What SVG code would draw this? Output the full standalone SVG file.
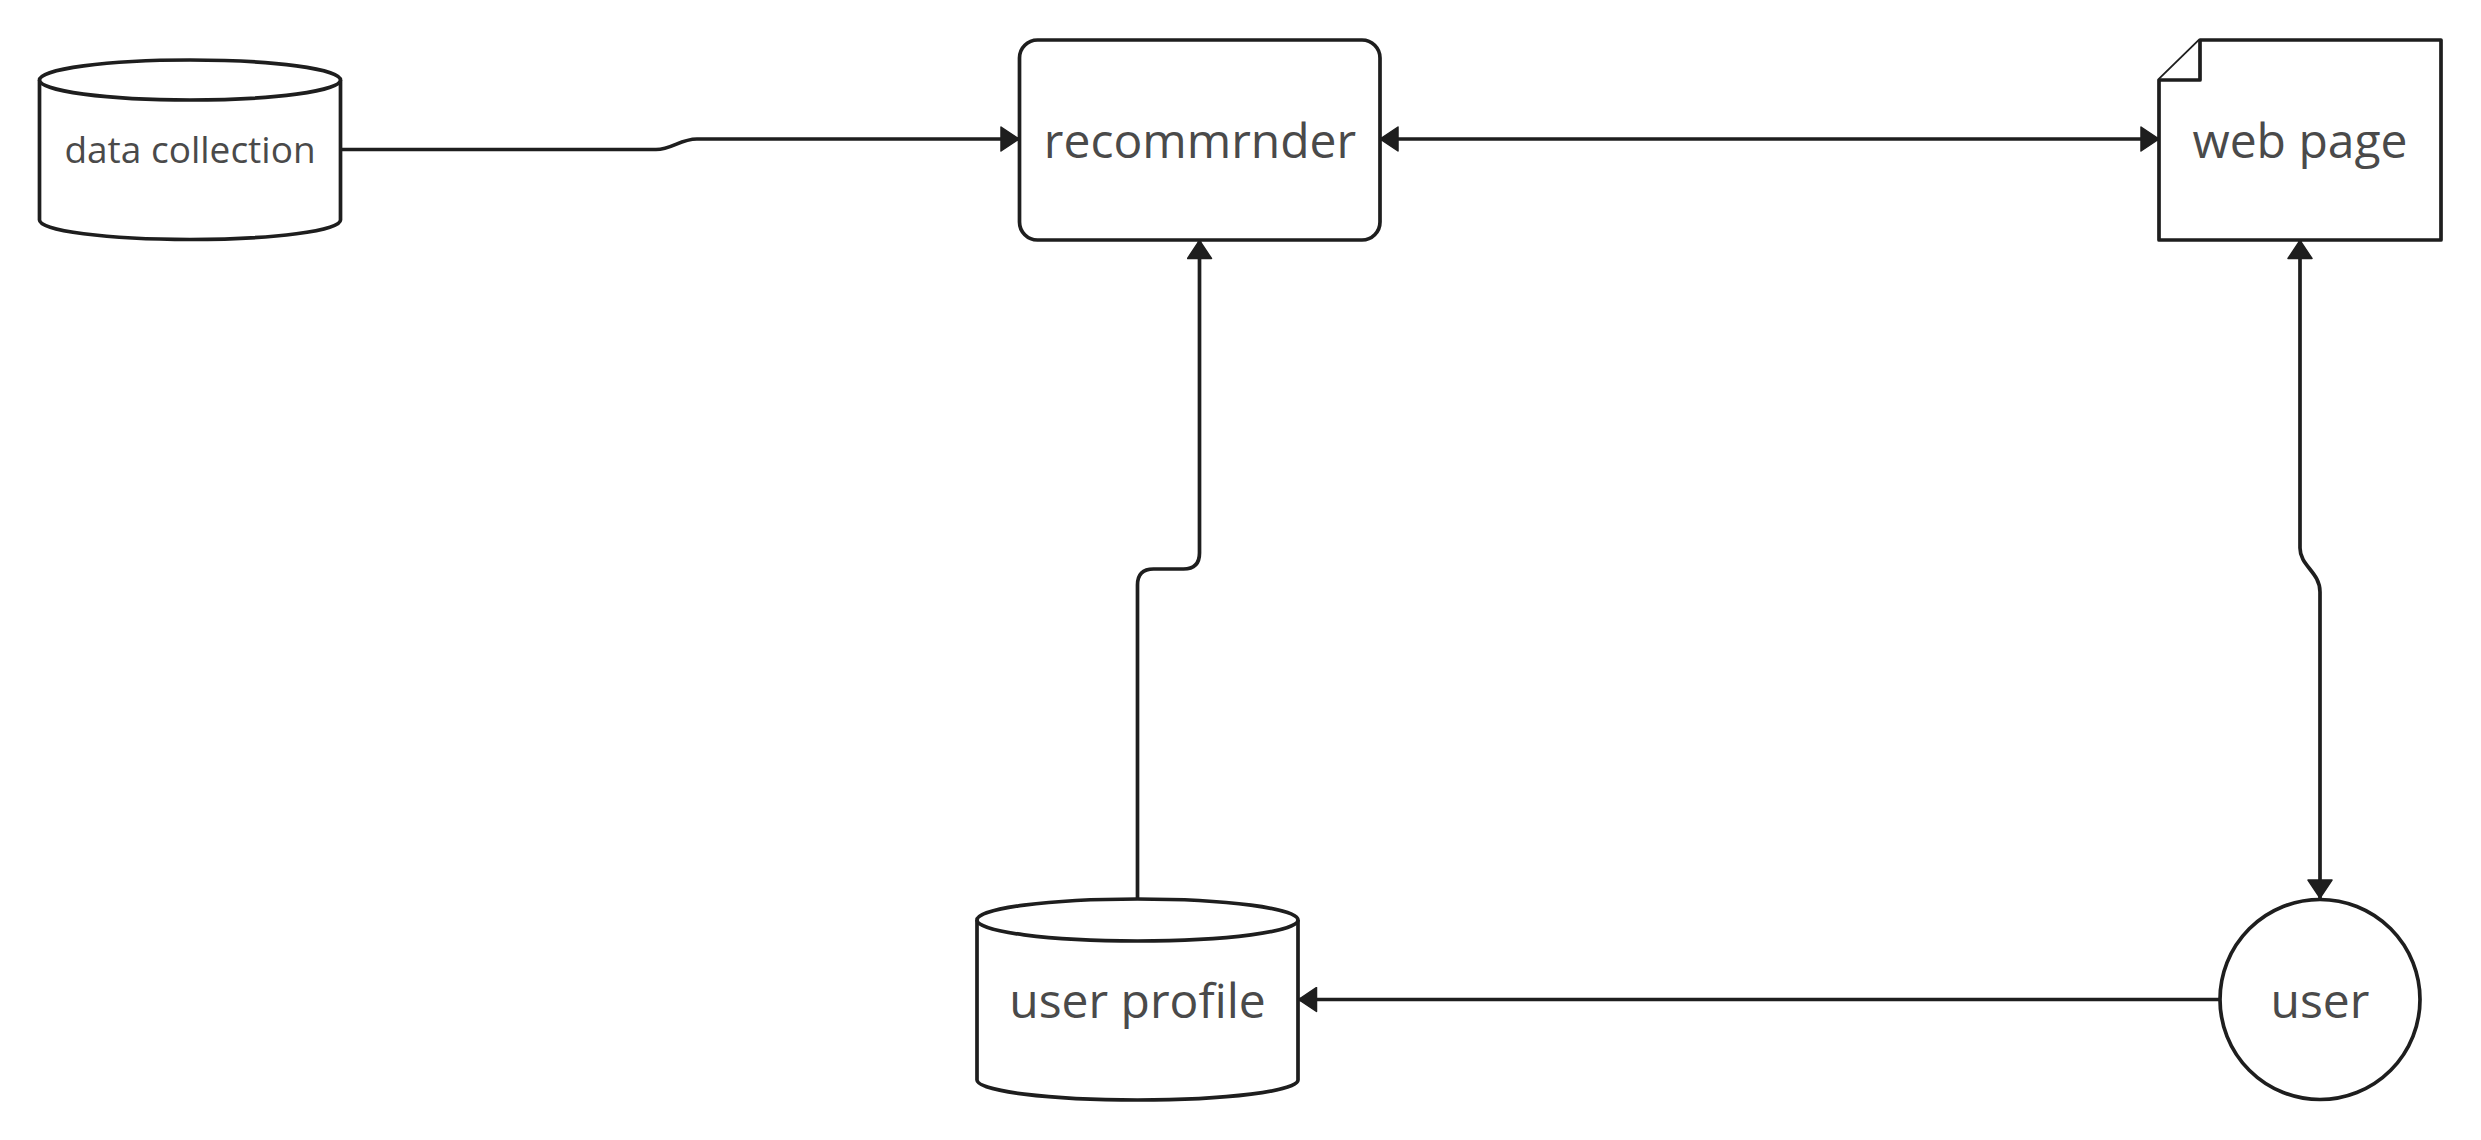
<svg xmlns="http://www.w3.org/2000/svg" width="2481" height="1140" viewBox="0 0 2481 1140">
<style>
.shape{fill:#ffffff;stroke:#1e1e1e;stroke-width:3.7;stroke-linejoin:round}
.conn{fill:none;stroke:#1e1e1e;stroke-width:3.7}
.lbl{font-family:"Open Sans","Noto Sans","Liberation Sans",sans-serif;fill:#4a4a4a;text-anchor:middle}
</style>
<defs>
<marker id="arr" markerUnits="userSpaceOnUse" viewBox="0 0 20 26" refX="19" refY="13" markerWidth="20" markerHeight="26" orient="auto-start-reverse">
<path d="M1,1 L19,13 L1,25 Z" fill="#1e1e1e" stroke="#1e1e1e" stroke-width="1.5" stroke-linejoin="round"/>
</marker>
</defs>
<rect width="2481" height="1140" fill="#ffffff"/>
<g id="connectors">
<path class="conn" d="M340.5,149.5 H656 C672,149.5 680,139 697,139 H1019" marker-end="url(#arr)"/>
<path class="conn" d="M1380,139 H2159" marker-start="url(#arr)" marker-end="url(#arr)"/>
<path class="conn" d="M1137.5,899 V585 Q1137.5,569 1153.5,569 H1183.5 Q1199.5,569 1199.5,553 V240.5" marker-end="url(#arr)"/>
<path class="conn" d="M2300,240.5 V548 C2300,566 2320,572 2320,592 V898" marker-start="url(#arr)" marker-end="url(#arr)"/>
<path class="conn" d="M2219.5,999.5 H1298.5" marker-end="url(#arr)"/>
</g>
<g id="data-collection">
<path class="shape" d="M39.5,80 A150.5,20 0 0 1 340.5,80 V220 A150.5,19.5 0 0 1 39.5,220 Z"/>
<path class="shape" d="M39.5,80 A150.5,20 0 0 0 340.5,80" fill="none"/>
<text class="lbl" x="190" y="163" font-size="37">data collection</text>
</g>
<g id="recommender">
<rect class="shape" x="1019.5" y="40" width="360.5" height="200" rx="18" ry="18"/>
<text class="lbl" x="1200" y="158" font-size="48">recommrnder</text>
</g>
<g id="web-page">
<path class="shape" d="M2200,40 H2441 V240 H2159 V80 Z"/>
<path class="shape" d="M2200,40 V80 H2159" fill="none"/>
<text class="lbl" x="2300" y="158" font-size="48">web page</text>
</g>
<g id="user-profile">
<path class="shape" d="M977,920 A160.5,21 0 0 1 1298,920 V1080 A160.5,20 0 0 1 977,1080 Z"/>
<path class="shape" d="M977,920 A160.5,21 0 0 0 1298,920" fill="none"/>
<text class="lbl" x="1137.5" y="1018" font-size="48">user profile</text>
</g>
<g id="user">
<circle class="shape" cx="2320" cy="999.5" r="100"/>
<text class="lbl" x="2320" y="1018" font-size="48">user</text>
</g>
</svg>
